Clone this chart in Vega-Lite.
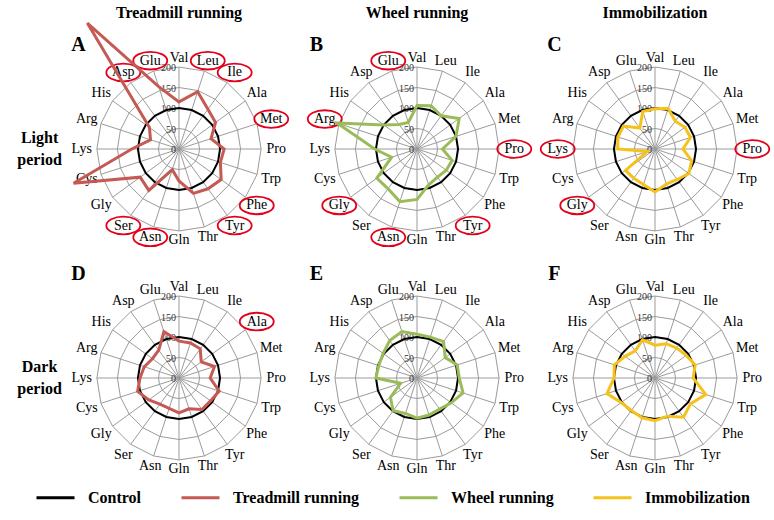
{
  "$schema": "https://vega.github.io/schema/vega-lite/v6.json",
  "padding": {"left": 17, "top": 5, "right": 5, "bottom": 5},
  "bounds": "flush",
  "spacing": {"row": 29, "column": 18},
  "config": {"view": {"stroke": null}, "font": "Liberation Serif"},
  "data": {"values": [
    {"t":"g","i":0,"aa":"Val","c":100,"lv":[50,100,150,200],"p":["A","B","C","D","E","F"]},
    {"t":"g","i":1,"aa":"Leu","c":100,"lv":[50,100,150,200],"p":["A","B","C","D","E","F"]},
    {"t":"g","i":2,"aa":"Ile","c":100,"lv":[50,100,150,200],"p":["A","B","C","D","E","F"]},
    {"t":"g","i":3,"aa":"Ala","c":100,"lv":[50,100,150,200],"p":["A","B","C","D","E","F"]},
    {"t":"g","i":4,"aa":"Met","c":100,"lv":[50,100,150,200],"p":["A","B","C","D","E","F"]},
    {"t":"g","i":5,"aa":"Pro","c":100,"lv":[50,100,150,200],"p":["A","B","C","D","E","F"]},
    {"t":"g","i":6,"aa":"Trp","c":100,"lv":[50,100,150,200],"p":["A","B","C","D","E","F"]},
    {"t":"g","i":7,"aa":"Phe","c":100,"lv":[50,100,150,200],"p":["A","B","C","D","E","F"]},
    {"t":"g","i":8,"aa":"Tyr","c":100,"lv":[50,100,150,200],"p":["A","B","C","D","E","F"]},
    {"t":"g","i":9,"aa":"Thr","c":100,"lv":[50,100,150,200],"p":["A","B","C","D","E","F"]},
    {"t":"g","i":10,"aa":"Gln","c":100,"lv":[50,100,150,200],"p":["A","B","C","D","E","F"]},
    {"t":"g","i":11,"aa":"Asn","c":100,"lv":[50,100,150,200],"p":["A","B","C","D","E","F"]},
    {"t":"g","i":12,"aa":"Ser","c":100,"lv":[50,100,150,200],"p":["A","B","C","D","E","F"]},
    {"t":"g","i":13,"aa":"Gly","c":100,"lv":[50,100,150,200],"p":["A","B","C","D","E","F"]},
    {"t":"g","i":14,"aa":"Cys","c":100,"lv":[50,100,150,200],"p":["A","B","C","D","E","F"]},
    {"t":"g","i":15,"aa":"Lys","c":100,"lv":[50,100,150,200],"p":["A","B","C","D","E","F"]},
    {"t":"g","i":16,"aa":"Arg","c":100,"lv":[50,100,150,200],"p":["A","B","C","D","E","F"]},
    {"t":"g","i":17,"aa":"His","c":100,"lv":[50,100,150,200],"p":["A","B","C","D","E","F"]},
    {"t":"g","i":18,"aa":"Asp","c":100,"lv":[50,100,150,200],"p":["A","B","C","D","E","F"]},
    {"t":"g","i":19,"aa":"Glu","c":100,"lv":[50,100,150,200],"p":["A","B","C","D","E","F"]},
    {"t":"k","v":0,"p":["A","B","C","D","E","F"]},
    {"t":"k","v":50,"p":["A","B","C","D","E","F"]},
    {"t":"k","v":100,"p":["A","B","C","D","E","F"]},
    {"t":"k","v":150,"p":["A","B","C","D","E","F"]},
    {"t":"k","v":200,"p":["A","B","C","D","E","F"]},
    {"t":"L","p":"A"},{"t":"L","p":"B"},{"t":"L","p":"C"},{"t":"L","p":"D"},{"t":"L","p":"E"},{"t":"L","p":"F"},
    {"t":"e","p":"A","i":19},{"t":"e","p":"A","i":18},{"t":"e","p":"A","i":1},{"t":"e","p":"A","i":2},{"t":"e","p":"A","i":4},
    {"t":"e","p":"A","i":7},{"t":"e","p":"A","i":8},{"t":"e","p":"A","i":12},{"t":"e","p":"A","i":11},
    {"t":"e","p":"B","i":19},{"t":"e","p":"B","i":16},{"t":"e","p":"B","i":5},{"t":"e","p":"B","i":13},{"t":"e","p":"B","i":11},{"t":"e","p":"B","i":8},
    {"t":"e","p":"C","i":15},{"t":"e","p":"C","i":5},{"t":"e","p":"C","i":13},
    {"t":"e","p":"D","i":3},
    {"t":"d","p":"A","i":0,"v":115},{"t":"d","p":"A","i":1,"v":147},{"t":"d","p":"A","i":2,"v":120},{"t":"d","p":"A","i":3,"v":110},
    {"t":"d","p":"A","i":4,"v":82},{"t":"d","p":"A","i":5,"v":110},{"t":"d","p":"A","i":6,"v":106},{"t":"d","p":"A","i":7,"v":127},
    {"t":"d","p":"A","i":8,"v":120},{"t":"d","p":"A","i":9,"v":114},{"t":"d","p":"A","i":10,"v":78},{"t":"d","p":"A","i":11,"v":53},
    {"t":"d","p":"A","i":12,"v":125},{"t":"d","p":"A","i":13,"v":117},{"t":"d","p":"A","i":14,"v":270},{"t":"d","p":"A","i":15,"v":115},
    {"t":"d","p":"A","i":16,"v":73},{"t":"d","p":"A","i":17,"v":89},{"t":"d","p":"A","i":18,"v":380},{"t":"d","p":"A","i":19,"v":160},
    {"t":"d","p":"B","i":0,"v":106},{"t":"d","p":"B","i":1,"v":111},{"t":"d","p":"B","i":2,"v":100},{"t":"d","p":"B","i":3,"v":127},
    {"t":"d","p":"B","i":4,"v":100},{"t":"d","p":"B","i":5,"v":62},{"t":"d","p":"B","i":6,"v":90},{"t":"d","p":"B","i":7,"v":88},
    {"t":"d","p":"B","i":8,"v":85},{"t":"d","p":"B","i":9,"v":92},{"t":"d","p":"B","i":10,"v":123},{"t":"d","p":"B","i":11,"v":135},
    {"t":"d","p":"B","i":12,"v":120},{"t":"d","p":"B","i":13,"v":121},{"t":"d","p":"B","i":14,"v":65},{"t":"d","p":"B","i":15,"v":103},
    {"t":"d","p":"B","i":16,"v":205},{"t":"d","p":"B","i":17,"v":100},{"t":"d","p":"B","i":18,"v":74},{"t":"d","p":"B","i":19,"v":68},
    {"t":"d","p":"C","i":0,"v":98},{"t":"d","p":"C","i":1,"v":104},{"t":"d","p":"C","i":2,"v":84},{"t":"d","p":"C","i":3,"v":90},
    {"t":"d","p":"C","i":4,"v":91},{"t":"d","p":"C","i":5,"v":68},{"t":"d","p":"C","i":6,"v":94},{"t":"d","p":"C","i":7,"v":102},
    {"t":"d","p":"C","i":8,"v":92},{"t":"d","p":"C","i":9,"v":90},{"t":"d","p":"C","i":10,"v":105},{"t":"d","p":"C","i":11,"v":91},
    {"t":"d","p":"C","i":12,"v":88},{"t":"d","p":"C","i":13,"v":89},{"t":"d","p":"C","i":14,"v":20},{"t":"d","p":"C","i":15,"v":91},
    {"t":"d","p":"C","i":16,"v":95},{"t":"d","p":"C","i":17,"v":95},{"t":"d","p":"C","i":18,"v":63},{"t":"d","p":"C","i":19,"v":96},
    {"t":"d","p":"D","i":0,"v":90},{"t":"d","p":"D","i":1,"v":90},{"t":"d","p":"D","i":2,"v":88},{"t":"d","p":"D","i":3,"v":67},
    {"t":"d","p":"D","i":4,"v":91},{"t":"d","p":"D","i":5,"v":76},{"t":"d","p":"D","i":6,"v":103},{"t":"d","p":"D","i":7,"v":95},
    {"t":"d","p":"D","i":8,"v":95},{"t":"d","p":"D","i":9,"v":79},{"t":"d","p":"D","i":10,"v":85},{"t":"d","p":"D","i":11,"v":78},
    {"t":"d","p":"D","i":12,"v":79},{"t":"d","p":"D","i":13,"v":91},{"t":"d","p":"D","i":14,"v":106},{"t":"d","p":"D","i":15,"v":95},
    {"t":"d","p":"D","i":16,"v":89},{"t":"d","p":"D","i":17,"v":80},{"t":"d","p":"D","i":18,"v":84},{"t":"d","p":"D","i":19,"v":119},
    {"t":"d","p":"E","i":0,"v":107},{"t":"d","p":"E","i":1,"v":105},{"t":"d","p":"E","i":2,"v":110},{"t":"d","p":"E","i":3,"v":85},
    {"t":"d","p":"E","i":4,"v":103},{"t":"d","p":"E","i":5,"v":103},{"t":"d","p":"E","i":6,"v":118},{"t":"d","p":"E","i":7,"v":103},
    {"t":"d","p":"E","i":8,"v":94},{"t":"d","p":"E","i":9,"v":95},{"t":"d","p":"E","i":10,"v":98},{"t":"d","p":"E","i":11,"v":91},
    {"t":"d","p":"E","i":12,"v":99},{"t":"d","p":"E","i":13,"v":80},{"t":"d","p":"E","i":14,"v":42},{"t":"d","p":"E","i":15,"v":100},
    {"t":"d","p":"E","i":16,"v":98},{"t":"d","p":"E","i":17,"v":102},{"t":"d","p":"E","i":18,"v":113},{"t":"d","p":"E","i":19,"v":119},
    {"t":"d","p":"F","i":0,"v":80},{"t":"d","p":"F","i":1,"v":88},{"t":"d","p":"F","i":2,"v":90},{"t":"d","p":"F","i":3,"v":94},
    {"t":"d","p":"F","i":4,"v":103},{"t":"d","p":"F","i":5,"v":93},{"t":"d","p":"F","i":6,"v":130},{"t":"d","p":"F","i":7,"v":107},
    {"t":"d","p":"F","i":8,"v":118},{"t":"d","p":"F","i":9,"v":98},{"t":"d","p":"F","i":10,"v":104},{"t":"d","p":"F","i":11,"v":102},
    {"t":"d","p":"F","i":12,"v":98},{"t":"d","p":"F","i":13,"v":102},{"t":"d","p":"F","i":14,"v":123},{"t":"d","p":"F","i":15,"v":100},
    {"t":"d","p":"F","i":16,"v":104},{"t":"d","p":"F","i":17,"v":90},{"t":"d","p":"F","i":18,"v":82},{"t":"d","p":"F","i":19,"v":98}
  ]},
  "transform": [
    {"flatten": ["p"]},
    {"calculate": "datum.p <= 'C' ? 'Light period' : 'Dark period'", "as": "per"},
    {"calculate": "(datum.p == 'A' || datum.p == 'D') ? 'Treadmill running' : ((datum.p == 'B' || datum.p == 'E') ? 'Wheel running' : 'Immobilization')", "as": "cond"},
    {"calculate": "datum.i * PI / 10", "as": "ang"}
  ],
  "facet": {
    "row": {"field": "per", "type": "nominal", "sort": ["Light period", "Dark period"],
      "header": {"title": null, "labelAngle": 0, "labelOrient": "left", "labelFontSize": 16, "labelFontWeight": "bold", "labelExpr": "split(datum.value, ' ')", "labelLineHeight": 22, "labelAlign": "center", "labelBaseline": "line-bottom", "labelPadding": -15}},
    "column": {"field": "cond", "type": "nominal", "sort": ["Treadmill running", "Wheel running", "Immobilization"],
      "header": {"title": null, "labelFontSize": 16, "labelFontWeight": "bold", "labelPadding": 28}}
  },
  "spec": {
    "width": 220,
    "height": 200,
    "encoding": {
      "x": {"field": "x", "type": "quantitative", "scale": {"domain": [-268, 268], "nice": false, "zero": false}, "axis": null},
      "y": {"field": "y", "type": "quantitative", "scale": {"domain": [-244, 244], "nice": false, "zero": false}, "axis": null}
    },
    "layer": [
      {
        "transform": [{"filter": "datum.t == 'g'"}, {"calculate": "0", "as": "x"}, {"calculate": "0", "as": "y"},
          {"calculate": "200 * sin(datum.ang)", "as": "x2"}, {"calculate": "200 * cos(datum.ang)", "as": "y2"}],
        "mark": {"type": "rule", "color": "#9b9b9b", "strokeWidth": 1},
        "encoding": {"x2": {"field": "x2"}, "y2": {"field": "y2"}}
      },
      {
        "transform": [{"filter": "datum.t == 'g'"}, {"flatten": ["lv"]},
          {"calculate": "datum.lv * sin(datum.ang)", "as": "x"}, {"calculate": "datum.lv * cos(datum.ang)", "as": "y"}],
        "mark": {"type": "line", "interpolate": "linear-closed", "color": "#9b9b9b", "strokeWidth": 1},
        "encoding": {"detail": {"field": "lv", "type": "nominal"}, "order": {"field": "i", "type": "quantitative"}}
      },
      {
        "transform": [{"filter": "datum.t == 'k'"}, {"calculate": "0", "as": "x"}, {"calculate": "datum.v", "as": "y"}],
        "mark": {"type": "text", "align": "right", "baseline": "middle", "dx": -3, "dy": 1, "fontSize": 10, "color": "#333333"},
        "encoding": {"text": {"field": "v", "type": "nominal"}}
      },
      {
        "transform": [{"filter": "datum.t == 'g'"},
          {"calculate": "(222 + 15 * abs(sin(datum.ang))) * sin(datum.ang)", "as": "x"},
          {"calculate": "(222 + 15 * abs(sin(datum.ang))) * cos(datum.ang)", "as": "y"}],
        "mark": {"type": "text", "fontSize": 14, "baseline": "middle", "align": "center", "color": "#000000"},
        "encoding": {"text": {"field": "aa", "type": "nominal"}}
      },
      {
        "transform": [{"filter": "datum.t == 'e'"},
          {"calculate": "(222 + 15 * abs(sin(datum.ang))) * sin(datum.ang)", "as": "x"},
          {"calculate": "(222 + 15 * abs(sin(datum.ang))) * cos(datum.ang)", "as": "y"}],
        "mark": {"type": "point", "shape": "M1,0C1,0.29,0.55,0.52,0,0.52C-0.55,0.52,-1,0.29,-1,0C-1,-0.29,-0.55,-0.52,0,-0.52C0.55,-0.52,1,-0.29,1,0Z",
          "size": 1156, "filled": false, "color": "#e3001b", "strokeWidth": 1.8, "opacity": 1}
      },
      {
        "transform": [{"filter": "datum.t == 'g'"},
          {"calculate": "datum.c * sin(datum.ang)", "as": "x"}, {"calculate": "datum.c * cos(datum.ang)", "as": "y"}],
        "mark": {"type": "line", "interpolate": "linear-closed", "strokeWidth": 2},
        "encoding": {
          "order": {"field": "i", "type": "quantitative"},
          "color": {"datum": "Control", "type": "nominal",
            "scale": {"domain": ["Control", "Treadmill running", "Wheel running", "Immobilization"], "range": ["#000000", "#c55a55", "#9bbb59", "#f5c21b"]}}
        }
      },
      {
        "transform": [{"filter": "datum.t == 'd'"},
          {"calculate": "datum.v * sin(datum.ang)", "as": "x"}, {"calculate": "datum.v * cos(datum.ang)", "as": "y"}],
        "mark": {"type": "line", "interpolate": "linear-closed", "strokeWidth": 3},
        "encoding": {
          "order": {"field": "i", "type": "quantitative"},
          "color": {"field": "cond", "type": "nominal",
            "scale": {"domain": ["Control", "Treadmill running", "Wheel running", "Immobilization"], "range": ["#000000", "#c55a55", "#9bbb59", "#f5c21b"]},
            "legend": {"title": null, "orient": "none", "legendX": -34, "legendY": 428, "direction": "horizontal", "symbolType": "stroke", "symbolSize": 1444, "symbolStrokeWidth": 3,
              "labelFontSize": 16, "labelFontWeight": "bold", "labelOffset": 12, "columnPadding": 33, "labelLimit": 300}}
        }
      },
      {
        "transform": [{"filter": "datum.t == 'L'"}, {"calculate": "-245", "as": "x"}, {"calculate": "254", "as": "y"}],
        "mark": {"type": "text", "fontSize": 20, "fontWeight": "bold", "baseline": "middle", "align": "center", "color": "#000000"},
        "encoding": {"text": {"field": "p", "type": "nominal"}}
      }
    ]
  }
}
